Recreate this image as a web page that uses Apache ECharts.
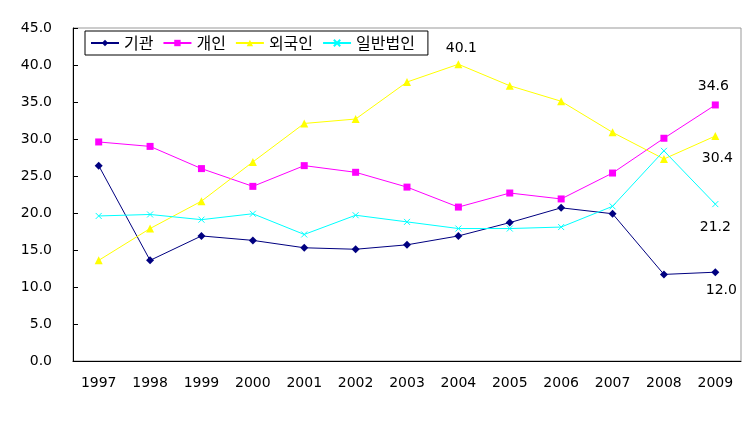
<!DOCTYPE html>
<html><head><meta charset="utf-8">
<script src="https://cdn.jsdelivr.net/npm/echarts@6/dist/echarts.min.js"></script>
<style>html,body{margin:0;padding:0;background:#fff}#c{width:756px;height:440px}</style>
</head><body><div id="c"></div>
<script>
const years = ['1997','1998','1999','2000','2001','2002','2003','2004','2005','2006','2007','2008','2009'];
const institution = [26.4, 13.6, 16.9, 16.3, 15.3, 15.1, 15.7, 16.9, 18.7, 20.7, 19.9, 11.7, 12.0];
const individual  = [29.6, 29.0, 26.0, 23.6, 26.4, 25.5, 23.5, 20.8, 22.7, 21.9, 25.4, 30.1, 34.6];
const foreigner   = [13.6, 17.9, 21.6, 26.9, 32.1, 32.7, 37.7, 40.1, 37.2, 35.1, 30.9, 27.3, 30.4];
const corporate   = [19.6, 19.8, 19.1, 19.9, 17.1, 19.7, 18.8, 17.9, 17.9, 18.1, 20.9, 28.4, 21.2];
const seriesNames = ['기관', '개인', '외국인', '일반법인'];

const numFont = 'DejaVu Sans';
const lblStyle = {show: true, color: '#000', fontSize: 14, fontFamily: numFont, formatter: p => p.value.toFixed(1)};
function withLabels(arr, labels) {
  return arr.map((v, i) => labels[i] ? {value: v, label: Object.assign({}, lblStyle, labels[i])} : v);
}
const last = years.length - 1;
const chart = echarts.init(document.getElementById('c'));
chart.setOption({
  animation: false,
  backgroundColor: '#fff',
  grid: {left: 73, right: 15, top: 28, bottom: 79, show: true, borderColor: '#999', borderWidth: 1},
  legend: {
    left: 85, top: 31, orient: 'horizontal',
    borderColor: '#000', borderWidth: 1, padding: [4, 13, 4, 5],
    itemWidth: 28, itemHeight: 8, itemGap: 9,
    textStyle: {fontFamily: 'Noto Sans CJK KR', fontSize: 16, color: '#000'},
    data: seriesNames
  },
  xAxis: {
    type: 'category', data: years, boundaryGap: true,
    axisLine: {lineStyle: {color: '#000', width: 1}},
    axisTick: {inside: true, length: 5, lineStyle: {color: '#000'}},
    axisLabel: {color: '#000', fontSize: 14, fontFamily: numFont, margin: 15}
  },
  yAxis: {
    type: 'value', min: 0, max: 45, interval: 5,
    axisLine: {show: true, lineStyle: {color: '#000', width: 1}},
    axisTick: {show: true, inside: true, length: 5, lineStyle: {color: '#000'}},
    splitLine: {show: false},
    axisLabel: {color: '#000', fontSize: 14, fontFamily: numFont, margin: 21, formatter: v => v.toFixed(1)}
  },
  series: [
    {name: seriesNames[0], type: 'line', symbol: 'diamond', symbolSize: 8,
     color: '#000080', lineStyle: {width: 1, color: '#000080'},
     data: withLabels(institution, {[last]: {position: 'bottom', offset: [6, 2]}})},
    {name: seriesNames[1], type: 'line', symbol: 'rect', symbolSize: 7,
     color: '#FF00FF', lineStyle: {width: 1, color: '#FF00FF'},
     data: withLabels(individual, {[last]: {position: 'top', offset: [-2, -3]}})},
    {name: seriesNames[2], type: 'line', symbol: 'triangle', symbolSize: 8,
     color: '#FFFF00', lineStyle: {width: 1, color: '#FFFF00'},
     data: withLabels(foreigner, {7: {position: 'top', offset: [3, 0]}, [last]: {position: 'bottom', offset: [2, 6]}})},
    {name: seriesNames[3], type: 'line', symbol: 'path://M0,0L10,10M10,0L0,10', symbolSize: 6,
     color: '#00FFFF', itemStyle: {color: '#00FFFF', borderColor: '#00FFFF', borderWidth: 1},
     lineStyle: {width: 1, color: '#00FFFF'},
     data: withLabels(corporate, {[last]: {position: 'bottom', offset: [0, 8]}})}
  ]
});
</script></body></html>
